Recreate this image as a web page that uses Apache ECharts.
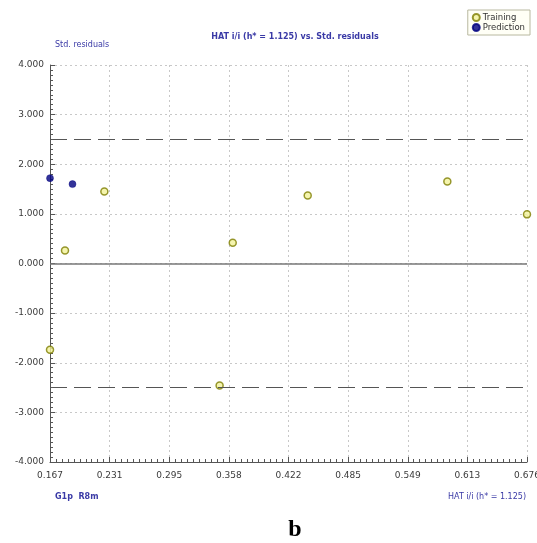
<!DOCTYPE html>
<html>
<head>
<meta charset="utf-8">
<script src="https://cdn.jsdelivr.net/npm/echarts@6/dist/echarts.min.js"></script>
<style>html,body{margin:0;padding:0;background:#fff;}#c{width:537px;height:543px;}</style>
</head>
<body>
<div id="c"></div>
<script>
// ---- data ----
var xTickLabels = ['0.167','0.231','0.295','0.358','0.422','0.485','0.549','0.613','0.676'];
var xMin = 0.167, xMax = 0.676;
var yTicks = [-4, -3, -2, -1, 0, 1, 2, 3, 4];
var trainingHat = [0.167, 0.183, 0.225, 0.348, 0.362, 0.442, 0.591, 0.676];
var trainingRes = [-1.74, 0.26, 1.45, -2.46, 0.42, 1.37, 1.65, 0.99];
var predictionHat = [0.167, 0.191];
var predictionRes = [1.72, 1.60];
var residualLimits = [2.5, -2.5];

var training = trainingHat.map(function (h, i) { return [h, trainingRes[i]]; });
var prediction = predictionHat.map(function (h, i) { return [h, predictionRes[i]]; });

var chart = echarts.init(document.getElementById('c'), null, {renderer: 'canvas'});
var labelFont = {fontFamily: 'DejaVu Sans', fontSize: 9, color: '#3a3a3a'};
var blue = '#3a3aa6';

chart.setOption({
  animation: false,
  backgroundColor: '#fff',
  grid: {left: 50, right: 10, top: 65, bottom: 81, containLabel: false, outerBoundsMode: 'none'},
  title: [
    {text: 'HAT i/i (h* = 1.125) vs. Std. residuals', left: 290, top: 28, textAlign: 'center',
     textStyle: {fontFamily: 'DejaVu Sans', fontSize: 8, fontWeight: 'bold', color: blue}},
    {text: 'Std. residuals', left: 50, top: 36,
     textStyle: {fontFamily: 'DejaVu Sans', fontSize: 8, fontWeight: 'normal', color: blue}},
    {text: 'G1p  R8m', left: 50, top: 488,
     textStyle: {fontFamily: 'DejaVu Sans', fontSize: 8, fontWeight: 'bold', color: blue}},
    {text: 'HAT i/i (h* = 1.125)', right: 6, top: 488,
     textStyle: {fontFamily: 'DejaVu Sans', fontSize: 8, fontWeight: 'normal', color: blue}},
    {text: 'b', left: 290, top: 513, textAlign: 'center',
     textStyle: {fontFamily: 'Liberation Serif', fontSize: 24, fontWeight: 'bold', color: '#000'}}
  ],
  legend: {
    orient: 'vertical', right: 7, top: 10, itemWidth: 7, itemHeight: 7, itemGap: 1,
    padding: [3, 5, 3, 4], backgroundColor: '#fffff6', borderColor: '#b8b8a0', borderWidth: 1,
    borderRadius: 0,
    textStyle: {fontFamily: 'DejaVu Sans', fontSize: 8.5, color: '#333', padding: [0, 0, 0, -2]},
    data: [{name: 'Training', icon: 'circle'}, {name: 'Prediction', icon: 'circle'}]
  },
  xAxis: [
    {type: 'value', min: xMin, max: xMax, show: false},
    {type: 'value', min: 0, max: xTickLabels.length - 1, interval: 1, position: 'bottom',
     axisLine: {show: true, lineStyle: {color: '#555', width: 1}},
     axisTick: {show: true, inside: true, length: 5, lineStyle: {color: '#555'}},
     minorTick: {show: true, splitNumber: 10, length: 3, lineStyle: {color: '#555'}},
     axisLabel: Object.assign({margin: 9, formatter: function (v) { return xTickLabels[Math.round(v)]; }}, labelFont),
     splitLine: {show: true, lineStyle: {color: '#c8c8c8', type: [2, 3], width: 1}}}
  ],
  yAxis: {
    type: 'value', min: yTicks[0], max: yTicks[yTicks.length - 1], interval: 1,
    axisLine: {show: true, lineStyle: {color: '#555', width: 1}},
    axisTick: {show: true, inside: true, length: 5, lineStyle: {color: '#555'}},
    minorTick: {show: true, splitNumber: 10, length: 3, lineStyle: {color: '#555'}},
    axisLabel: Object.assign({margin: 6, formatter: function (v) { return v.toFixed(3); }}, labelFont),
    splitLine: {show: true, lineStyle: {color: '#c8c8c8', type: [2, 3], width: 1}}
  },
  series: [
    {
      name: 'Training', type: 'scatter', xAxisIndex: 0, data: training, symbolSize: 7, clip: false,
      itemStyle: {color: '#f2f29a', borderColor: '#7d7d00', borderWidth: 1.5},
      markLine: {
        silent: true, symbol: 'none', label: {show: false},
        data: [
          {yAxis: 0, lineStyle: {color: '#777', type: 'solid', width: 1.5}},
          {yAxis: residualLimits[0], lineStyle: {color: '#555', type: [17, 7], width: 1.2}},
          {yAxis: residualLimits[1], lineStyle: {color: '#555', type: [17, 7], width: 1.2}}
        ]
      },
      z: 3
    },
    {
      name: 'Prediction', type: 'scatter', xAxisIndex: 0, data: prediction, symbolSize: 7, clip: false,
      itemStyle: {color: '#000080', borderColor: '#000080', borderWidth: 0.5},
      z: 4
    }
  ]
});
</script>
</body>
</html>
